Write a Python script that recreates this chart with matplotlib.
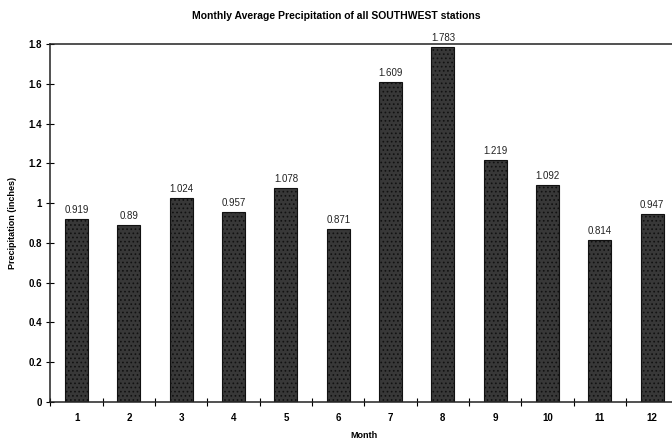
import matplotlib
matplotlib.use("Agg")
import matplotlib.pyplot as plt

months = [1, 2, 3, 4, 5, 6, 7, 8, 9, 10, 11, 12]
precip = [0.919, 0.89, 1.024, 0.957, 1.078, 0.871, 1.609, 1.783, 1.219, 1.092, 0.814, 0.947]
labels = ["0.919", "0.89", "1.024", "0.957", "1.078", "0.871", "1.609", "1.783", "1.219", "1.092", "0.814", "0.947"]
yticks = [0, 0.2, 0.4, 0.6, 0.8, 1.0, 1.2, 1.4, 1.6, 1.8]
ytick_labels = ["0", "0.2", "0.4", "0.6", "0.8", "1", "1.2", "1.4", "1.6", "1.8"]

plt.rcParams['font.family'] = ['Liberation Sans', 'DejaVu Sans']
plt.rcParams['hatch.color'] = '#707070'
plt.rcParams['hatch.linewidth'] = 0.7

fig = plt.figure(figsize=(6.72, 4.44), dpi=100)
ax = fig.add_axes([50.4/672, 42/444, 628/672, 358/444])

bars = ax.bar(months, precip, width=0.44, color='#383838', edgecolor='#111111',
              linewidth=0.8, hatch='....')
for x, v, t in zip(months, precip, labels):
    ax.text(x, v + 0.02, t, ha='center', va='bottom', fontsize=7, color='#222222')

ax.set_xlim(0.5, 12.5)
ax.set_ylim(0, 1.8)
ax.set_yticks(yticks)
ax.set_yticklabels(ytick_labels, fontsize=7)
ax.set_xticks(months)
ax.set_xticklabels([str(m) for m in months], fontsize=7, fontweight='bold')
ax.tick_params(axis='x', which='major', length=0, pad=8)
ax.set_xticks([m + 0.5 for m in months[:-1]] + [0.5], minor=True)
ax.tick_params(axis='x', which='minor', direction='inout', length=6, width=0.8)
ax.tick_params(axis='y', direction='inout', length=6, width=0.8, pad=3)
for lbl in ax.get_yticklabels():
    lbl.set_fontweight('bold')

for s in ['left', 'bottom', 'top']:
    ax.spines[s].set_linewidth(1.1)
    ax.spines[s].set_color('#222222')
ax.spines['right'].set_visible(False)

ax.set_ylabel('Precipitation (inches)', fontsize=6.5, fontweight='bold', labelpad=8)
ax.set_xlabel('Month', fontsize=6.5, fontweight='bold', labelpad=6)
fig.suptitle('Monthly Average Precipitation of all SOUTHWEST stations', fontsize=7.5,
             fontweight='bold', y=0.975, x=0.5)

fig.savefig('out.png', dpi=100)
